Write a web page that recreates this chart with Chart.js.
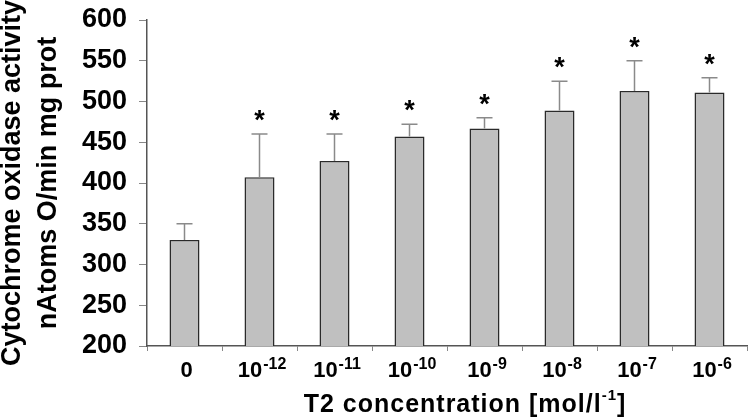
<!DOCTYPE html>
<html>
<head>
<meta charset="utf-8">
<script src="https://cdn.jsdelivr.net/npm/chart.js@4.4.0/dist/chart.umd.min.js"></script>
<style>
  html, body { margin: 0; padding: 0; background: #fff; }
  #wrap { position: relative; width: 750px; height: 419px; }
</style>
</head>
<body>
<div id="wrap"><canvas id="chart"></canvas></div>
<script>
// --- data ---
const tickBase = ['0', '10', '10', '10', '10', '10', '10', '10'];
const tickExp = ['', '-12', '-11', '-10', '-9', '-8', '-7', '-6'];
const activity = [330, 407, 427, 457, 467, 489, 513, 511];
const activitySD = [20, 53, 33, 15, 13, 36, 37, 18];
const significant = [false, true, true, true, true, true, true, true];
const yMin = 200, yMax = 600, yStep = 50;

const FONT = '"Liberation Sans", Arial, Helvetica, sans-serif';
const categories = tickBase.map((b, i) => b + tickExp[i]);

// error whiskers (upper only) + asterisks
const errorBars = {
    id: 'errorBars',
    afterDatasetsDraw(chart) {
        const { ctx, scales: { y } } = chart;
        const bars = chart.getDatasetMeta(0).data;
        ctx.save();
        bars.forEach((bar, i) => {
            const yTop = y.getPixelForValue(activity[i]);
            const yErr = y.getPixelForValue(activity[i] + activitySD[i]);
            ctx.strokeStyle = '#8a8a8a';
            ctx.lineWidth = 1.5;
            ctx.beginPath();
            ctx.moveTo(bar.x, yTop);
            ctx.lineTo(bar.x, yErr);
            ctx.moveTo(bar.x - 8, yErr);
            ctx.lineTo(bar.x + 8, yErr);
            ctx.stroke();
            if (significant[i]) {
                ctx.fillStyle = '#000';
                ctx.font = `700 27px ${FONT}`;
                ctx.textAlign = 'center';
                ctx.textBaseline = 'alphabetic';
                ctx.fillText('*', bar.x, yErr - 5);
            }
        });
        ctx.restore();
    }
};

// x tick labels and x title need real superscripts
const supLabels = {
    id: 'supLabels',
    afterDraw(chart) {
        const { ctx, chartArea, scales: { x } } = chart;
        ctx.save();
        ctx.fillStyle = '#000';
        ctx.textAlign = 'left';
        ctx.textBaseline = 'alphabetic';
        const baseY = chartArea.bottom + 31;
        tickBase.forEach((b, i) => {
            const cx = x.getPixelForTick(i);
            ctx.font = `700 22px ${FONT}`;
            const wb = ctx.measureText(b).width;
            ctx.font = `700 16px ${FONT}`;
            const we = ctx.measureText(tickExp[i]).width;
            let sx = cx - (wb + we) / 2 + 2;
            ctx.font = `700 22px ${FONT}`;
            ctx.fillText(b, sx, baseY);
            ctx.font = `700 16px ${FONT}`;
            ctx.fillText(tickExp[i], sx + wb + 1, baseY - 8);
        });

        // axis title: T2 concentration [mol/l-1]
        const parts = [['T2 concentration [mol/l', 25, 0], ['-1', 15, -12], [']', 25, 0]];
        if ('letterSpacing' in ctx) ctx.letterSpacing = '1px';
        let total = 0;
        parts.forEach(p => { ctx.font = `700 ${p[1]}px ${FONT}`; p.w = ctx.measureText(p[0]).width; total += p.w; });
        let tx = (chartArea.left + chartArea.right) / 2 + 18 - total / 2;
        const titleY = chartArea.bottom + 66;
        parts.forEach(p => {
            ctx.font = `700 ${p[1]}px ${FONT}`;
            ctx.fillText(p[0], tx, titleY + p[2]);
            tx += p.w;
        });
        ctx.restore();
    }
};

new Chart(document.getElementById('chart'), {
    type: 'bar',
    data: {
        labels: categories,
        datasets: [{
            data: activity,
            backgroundColor: '#c0c0c0',
            borderColor: '#2a2a2a',
            borderWidth: 1.5,
            barPercentage: 0.4,
            categoryPercentage: 1.0
        }]
    },
    options: {
        responsive: true,
        maintainAspectRatio: false,
        animation: false,
        layout: { padding: { top: 20, right: 3, bottom: 0, left: 0 } },
        plugins: { legend: { display: false }, tooltip: { enabled: false } },
        scales: {
            x: {
                grid: { drawOnChartArea: false, drawTicks: true, tickLength: 5, color: '#888', offset: true },
                border: { color: '#555', width: 1.5 },
                ticks: { color: 'rgba(0,0,0,0)', autoSkip: false, maxRotation: 0, font: { size: 21, weight: 'bold', family: FONT } },
                afterFit(scale) { scale.height = 73; scale.paddingLeft = 0; scale.paddingRight = 0; }
            },
            y: {
                min: yMin,
                max: yMax,
                grid: { drawOnChartArea: false, drawTicks: true, tickLength: 8, color: '#888' },
                border: { color: '#555', width: 1.5 },
                ticks: { stepSize: yStep, padding: 12, color: '#000', font: { size: 27, weight: 'bold', family: FONT } },
                title: {
                    display: true,
                    text: ['Cytochrome oxidase activity', 'nAtoms O/min mg prot'],
                    color: '#000',
                    font: { size: 27, weight: 'bold', family: FONT, lineHeight: 1.35 },
                    padding: { top: -6, bottom: 0 }
                },
                afterFit(scale) { scale.width = 147; scale.paddingTop = 0; scale.paddingBottom = 0; }
            }
        }
    },
    plugins: [errorBars, supLabels]
});
</script>
</body>
</html>
